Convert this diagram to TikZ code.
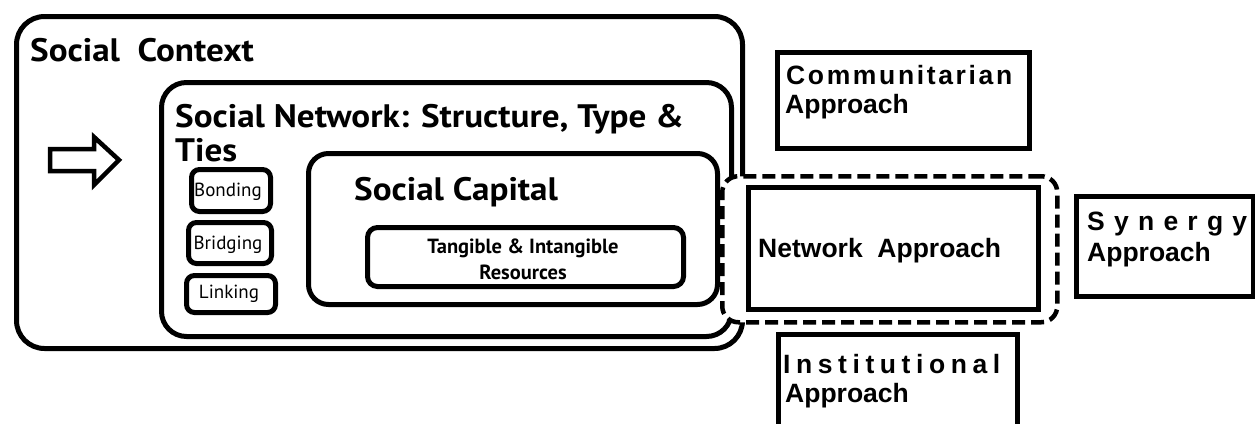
\documentclass[tikz,border=0pt]{standalone}
\usepackage{fontspec}
\setmainfont{PT Sans}
\newfontfamily\titlefont{PT Sans}[FakeStretch=1.08]
\newfontfamily\helv{Liberation Sans}
% spread the letters of a word over a fixed width
\newcommand\spreadword[2]{\hbox to #1{#2}}
\begin{document}
\begin{tikzpicture}[x=1pt,y=-1pt,
  box/.style={draw, line width=5pt, inner sep=0pt, anchor=north west},
  sqbox/.style={draw, line width=4.5pt, inner sep=0pt, anchor=north west},
  lbl/.style={inner sep=0pt, anchor=base west},
  clbl/.style={inner sep=0pt, anchor=base},
  titletext/.style={font=\titlefont\fontsize{32.5}{36}\selectfont\bfseries},
  tietext/.style={font=\fontsize{19}{22}\selectfont},
  restext/.style={font=\fontsize{20.5}{24}\selectfont\bfseries},
  apptext/.style={font=\helv\fontsize{26.5}{30}\selectfont\bfseries}]
\useasboundingbox (0,0) rectangle (1255,423);
\clip (0,0) rectangle (1255,423);

% nested rounded frames
\node[box, rounded corners=28pt, minimum width=726pt, minimum height=332pt] (ctx) at (14,14) {};
\node[box, rounded corners=25pt, minimum width=570pt, minimum height=254pt] (net) at (159,80) {};
\node[box, rounded corners=20pt, minimum width=409pt, minimum height=151pt] (cap) at (306,151) {};
\node[box, rounded corners=10pt, minimum width=316pt, minimum height=59pt] (res) at (365,225) {};

% tie types
\node[box, rounded corners=8pt, minimum width=79pt, minimum height=42pt] (bond) at (189,167) {};
\node[box, rounded corners=8pt, minimum width=83pt, minimum height=41pt] (bridge) at (186,220) {};
\node[box, rounded corners=8pt, minimum width=89pt, minimum height=37pt] (link) at (184,273) {};

% block arrow
\draw[line width=4.5pt, line join=miter] (50,149) -- (94,149) -- (94,137) -- (119,160)
  -- (94,185) -- (94,171) -- (50,171) -- cycle;

% dashed frame around the network approach
\node[box, line width=4.5pt, fill=white, dash pattern=on 13pt off 6pt, rounded corners=16pt,
  minimum width=335pt, minimum height=146pt] (dash) at (720,174) {};

% approach boxes
\node[sqbox, minimum width=252pt, minimum height=96pt] (comm) at (775,50) {};
\node[sqbox, minimum width=290pt, minimum height=122pt] (netapp) at (746,185) {};
\node[sqbox, minimum width=177pt, minimum height=100pt] (syn) at (1074,194) {};
\node[sqbox, minimum width=239pt, minimum height=120pt] (inst) at (776,332) {};

% labels
\node[lbl, titletext] (tctx) at (30,61) {Social\ \ Context};
\node[lbl, titletext] (tnet1) at (175,127.5) {Social Network: Structure, Type \&};
\node[lbl, titletext] (tnet2) at (175,161) {Ties};
\node[lbl, titletext] (tcap) at (354,200) {Social Capital};
\node[clbl, tietext] (tbond) at (228,196) {Bonding};
\node[clbl, tietext] (tbridge) at (228,249) {Bridging};
\node[clbl, tietext] (tlink) at (229,298) {Linking};
\node[clbl, restext] (tres1) at (523,253) {Tangible \& Intangible};
\node[clbl, restext] (tres2) at (523,279) {Resources};

\node[lbl, apptext] (tnetapp) at (758,257) {Network\ \ Approach};
\node[lbl, apptext] (tcomm1) at (786,84)
  {\spreadword{226pt}{C\hfill o\hfill m\hfill m\hfill u\hfill n\hfill i\hfill t\hfill a\hfill r\hfill i\hfill a\hfill n}};
\node[lbl, apptext] (tcomm2) at (785,113) {Approach};
\node[lbl, apptext] (tsyn1) at (1087,230)
  {\spreadword{160pt}{S\hfill y\hfill n\hfill e\hfill r\hfill g\hfill y}};
\node[lbl, apptext] (tsyn2) at (1087,261) {Approach};
\node[lbl, apptext] (tinst1) at (783,373)
  {\spreadword{217pt}{I\hfill n\hfill s\hfill t\hfill i\hfill t\hfill u\hfill t\hfill i\hfill o\hfill n\hfill a\hfill l}};
\node[lbl, apptext] (tinst2) at (785,402) {Approach};
\end{tikzpicture}
\end{document}
